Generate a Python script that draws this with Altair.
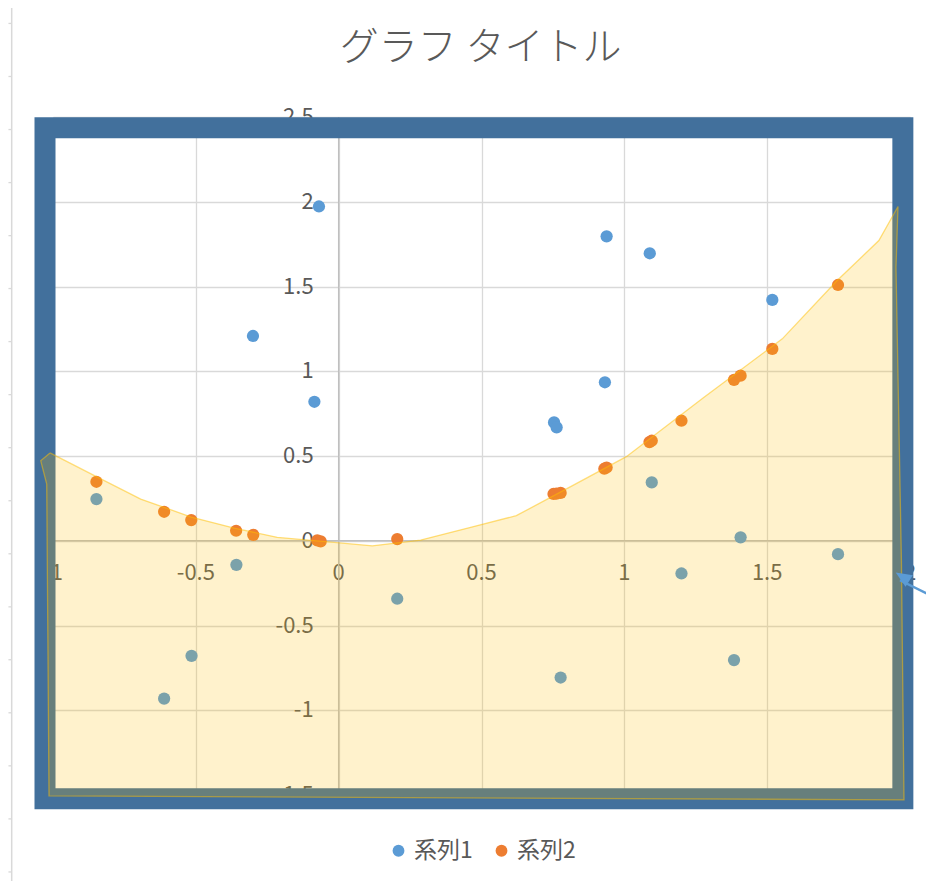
import altair as alt
import pandas as pd

# ---- data ----
s1_x = [-0.848, -0.611, -0.515, -0.358, -0.300, -0.085, -0.069, 0.205, 0.754, 0.763,
        0.777, 0.932, 0.938, 1.089, 1.096, 1.200, 1.384, 1.407, 1.518, 1.748]
s1_y = [0.246, -0.931, -0.679, -0.142, 1.208, 0.820, 1.972, -0.342, 0.698, 0.669,
        -0.807, 0.935, 1.796, 1.696, 0.344, -0.193, -0.704, 0.020, 1.421, -0.079]
s2_x = [-0.848, -0.611, -0.516, -0.359, -0.299, -0.075, -0.063, 0.205, 0.752, 0.762,
        0.777, 0.930, 0.938, 1.088, 1.096, 1.200, 1.384, 1.407, 1.518, 1.748]
s2_y = [0.348, 0.171, 0.122, 0.059, 0.035, 0.002, -0.004, 0.010, 0.276, 0.278,
        0.282, 0.425, 0.432, 0.582, 0.590, 0.708, 0.949, 0.974, 1.132, 1.509]
series_names = ["系列1", "系列2"]
series_colors = ["#5B9BD5", "#ED7D31"]

x_ticks = [-1, -0.5, 0, 0.5, 1, 1.5, 2]
x_tick_labels = ["-1", "-0.5", "0", "0.5", "1", "1.5", "2"]
y_ticks = [-1.5, -1, -0.5, 0, 0.5, 1, 1.5, 2, 2.5]
y_tick_labels = ["-1.5", "-1", "-0.5", "0", "0.5", "1", "1.5", "2", "2.5"]

title_text = "グラフ タイトル"

# freeform shape drawn over the chart (data units)
shape_x = [-1.0105, -0.848, -0.693, -0.516, -0.366, -0.215, -0.016, 0.118, 0.287, 0.462,
           0.622, 0.812, 1.007, 1.279, 1.553, 1.745, 1.891, 1.958, 1.951, 1.970,
           1.979, -1.014, -1.022, -1.043, -1.0105]
shape_y = [0.518, 0.378, 0.246, 0.140, 0.075, 0.020, -0.010, -0.030, 0.004, 0.079,
           0.148, 0.319, 0.496, 0.846, 1.191, 1.535, 1.771, 1.972, 1.612, -0.118,
           -1.529, -1.505, 0.335, 0.472, 0.518]

# thick frame rectangle (centre line of the stroke)
frame_x = [-1.028]
frame_x2 = [1.975]
frame_y = [2.437]
frame_y2 = [-1.522]

# arrow callout
arrow_x = [1.965, 2.09]
arrow_y = [-0.233, -0.338]
arrow_tip_x = [1.950]
arrow_tip_y = [-0.187]

# chart-area border line at the left with its small ticks
border_x = [-1.1446]
border_y = [3.16]
border_y2 = [-2.2]
border_tick_y = [3.052, 2.739, 2.426, 2.113, 1.800, 1.488, 1.175, 0.862, 0.549, 0.236,
                 -0.077, -0.390, -0.702, -1.015, -1.328, -1.641, -1.954]

# ---- shared scales/axes ----
XS = alt.Scale(domain=[-1, 2], nice=False, zero=False)
YS = alt.Scale(domain=[-1.5, 2.5], nice=False, zero=False)
XA = alt.Axis(values=x_ticks, grid=True, labels=False, ticks=False, domain=False,
              title=None, gridColor="#D9D9D9", gridWidth=1.3)
YA = alt.Axis(values=y_ticks, grid=True, labels=False, ticks=False, domain=False,
              title=None, gridColor="#D9D9D9", gridWidth=1.3)


def X(f):
    return alt.X(f, type="quantitative", scale=XS, axis=XA)


def Y(f):
    return alt.Y(f, type="quantitative", scale=YS, axis=YA)


LABEL_FONT = "Noto Sans CJK JP"
LABEL_COLOR = "#595959"

pts = pd.DataFrame({
    "x": s1_x + s2_x,
    "y": s1_y + s2_y,
    "series": [series_names[0]] * len(s1_x) + [series_names[1]] * len(s2_x),
})

border = alt.Chart(pd.DataFrame({"x": border_x, "y": border_y, "y2": border_y2})).mark_rule(
    color="#D9D9D9", strokeWidth=1.5, clip=False
).encode(x=X("x"), y=Y("y"), y2="y2")

border_ticks = alt.Chart(pd.DataFrame({"y": border_tick_y})).transform_calculate(
    x="-1.1446", x2="-1.156"
).mark_rule(color="#D9D9D9", strokeWidth=1.3, clip=False).encode(
    x=X("x"), x2="x2", y=Y("y")
)

xlab = alt.Chart(pd.DataFrame({"v": x_ticks, "t": x_tick_labels, "z": [0] * len(x_ticks)})).mark_text(
    font=LABEL_FONT, fontSize=22, color=LABEL_COLOR, align="center", baseline="middle", dy=32, clip=False
).encode(x=X("v"), y=Y("z"), text="t:N")

ylab = alt.Chart(pd.DataFrame({"v": y_ticks, "t": y_tick_labels, "z": [0] * len(y_ticks)})).mark_text(
    font=LABEL_FONT, fontSize=22, color=LABEL_COLOR, align="right", baseline="middle", dx=-25, clip=False
).encode(x=X("z"), y=Y("v"), text="t:N")

zero_v = alt.Chart(pd.DataFrame({"v": [0]})).mark_rule(color="#BFBFBF", strokeWidth=1.4).encode(x=X("v"))
zero_h = alt.Chart(pd.DataFrame({"v": [0]})).mark_rule(color="#BFBFBF", strokeWidth=1.4).encode(y=Y("v"))

points = alt.Chart(pts).mark_circle(size=150, opacity=1).encode(
    x=X("x"),
    y=Y("y"),
    color=alt.Color(
        "series:N",
        scale=alt.Scale(domain=series_names, range=series_colors),
        legend=alt.Legend(
            orient="none", legendX=334, legendY=722, direction="horizontal", title=None,
            symbolType="circle", symbolSize=140, symbolStrokeWidth=0, symbolOpacity=1,
            labelFont=LABEL_FONT, labelFontSize=23, labelColor=LABEL_COLOR,
            labelOffset=4, columnPadding=17, padding=0,
        ),
    ),
)

frame = alt.Chart(pd.DataFrame({"x": frame_x, "x2": frame_x2, "y": frame_y, "y2": frame_y2})).mark_rect(
    fillOpacity=0, stroke="#42709C", strokeWidth=21, clip=False
).encode(x=X("x"), x2="x2", y=Y("y"), y2="y2")

shape = alt.Chart(pd.DataFrame({"x": shape_x, "y": shape_y, "i": list(range(len(shape_x)))})).mark_line(
    fill="#FFC000", fillOpacity=0.2, stroke="#FFC000", strokeOpacity=0.5, strokeWidth=1.3,
    interpolate="linear", clip=False
).encode(x=X("x"), y=Y("y"), order=alt.Order("i:Q"))

arrow_line = alt.Chart(pd.DataFrame({"x": arrow_x, "y": arrow_y})).mark_line(
    color="#5B9BD5", strokeWidth=2.5, clip=False
).encode(x=X("x"), y=Y("y"))

arrow_head = alt.Chart(pd.DataFrame({"x": arrow_tip_x, "y": arrow_tip_y})).mark_point(
    shape="M0,0L2,-0.85L2,0.85Z", size=256, angle=32.7, filled=True, color="#5B9BD5",
    opacity=1, strokeWidth=0, clip=False
).encode(x=X("x"), y=Y("y"))

title = alt.Chart(pd.DataFrame({"x": [0.497], "y": [2.905], "t": [title_text]})).mark_text(
    font=LABEL_FONT, fontSize=39, fontWeight=300, color=LABEL_COLOR, align="center",
    baseline="middle", clip=False
).encode(x=X("x"), y=Y("y"), text="t:N")

chart = alt.layer(
    border, border_ticks, xlab, ylab, zero_v, zero_h, points, frame, shape, arrow_line, arrow_head, title
).properties(
    width=857, height=678,
    autosize=alt.AutoSizeParams(type="none"),
    padding={"left": 45, "top": 109, "right": 16, "bottom": 86},
    background="white",
).configure_view(strokeWidth=0)

chart.save("out.html", embed_options={"renderer": "svg", "actions": False})
